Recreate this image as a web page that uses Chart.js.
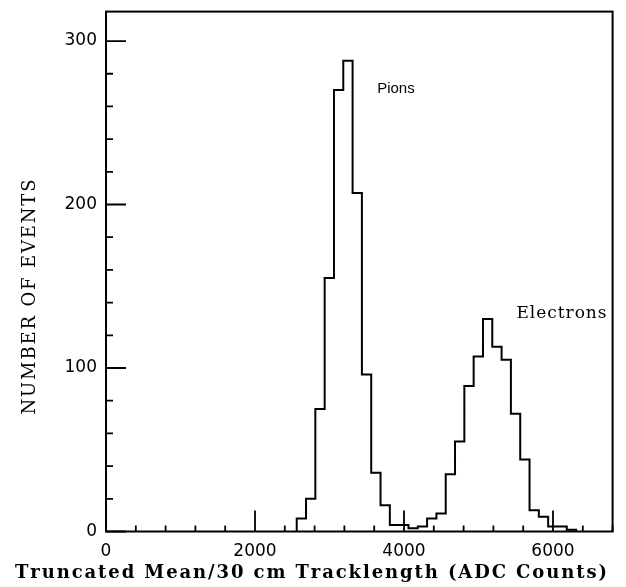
<!DOCTYPE html>
<html><head><meta charset="utf-8">
<script src="https://cdn.jsdelivr.net/npm/chart.js@4"></script>
<style>html,body{margin:0;padding:0;background:#fff}#wrap{width:626px;height:587px;position:relative}</style>
</head><body><div id="wrap"><canvas id="c" width="626" height="587"></canvas></div>
<script>
// ---- data ----
const binEdges = [2560, 2685, 2810, 2935, 3060, 3185, 3310, 3435, 3560, 3685,
                  3810, 3935, 4060, 4185, 4310, 4435, 4560, 4685, 4810, 4935,
                  5060, 5185, 5310, 5435, 5560, 5685, 5810, 5935, 6060, 6185, 6310];
const counts = [8, 20, 75, 155, 270, 288, 207, 96, 36, 16,
                4, 4, 2, 3, 8, 11, 35, 55, 89, 107,
                130, 113, 105, 72, 44, 13, 9, 3, 3, 1];
const xTickValues = [0, 2000, 4000, 6000];
const yTickValues = [0, 100, 200, 300];
const xMinorStep = 400;
const yMinorStep = 20;
const xRange = [0, 6800];
const yRange = [0, 318];
const xTitle = 'Truncated Mean/30 cm Tracklength (ADC Counts)';
const yTitle = 'NUMBER OF EVENTS';
const labels = [
  {text: 'Pions', x: 3640, y: 271},
  {text: 'Electrons', x: 5510, y: 133}
];

// histogram outline points built from the arrays
const histPoints = [{x: binEdges[0], y: 0}];
counts.forEach((c, i) => histPoints.push({x: binEdges[i], y: c}));
histPoints.push({x: binEdges[binEdges.length - 1], y: 0});

function spacedText(ctx, text, x, y, targetWidth, align) {
  ctx.save();
  const chars = [...text];
  const widths = chars.map(ch => ctx.measureText(ch).width);
  const natural = widths.reduce((a, b) => a + b, 0);
  const gap = (targetWidth - natural) / (chars.length - 1);
  let cx = align === 'center' ? x - targetWidth / 2 : x;
  ctx.textAlign = 'left';
  chars.forEach((ch, i) => { ctx.fillText(ch, cx, y); cx += widths[i] + gap; });
  ctx.restore();
}

const framePlugin = {
  id: 'frame',
  afterDatasetsDraw(chart) {
    const {ctx, chartArea: a, scales: {x, y}} = chart;
    ctx.save();
    ctx.strokeStyle = '#000';
    ctx.lineWidth = 2;
    ctx.strokeRect(a.left, a.top, a.right - a.left, a.bottom - a.top);
    ctx.lineWidth = 1.8;
    ctx.beginPath();
    for (let v = yRange[0]; v <= yRange[1]; v += yMinorStep) {
      const py = y.getPixelForValue(v);
      const len = yTickValues.includes(v) ? 20 : 7;
      ctx.moveTo(a.left, py); ctx.lineTo(a.left + len, py);
    }
    for (let v = xRange[0]; v <= xRange[1]; v += xMinorStep) {
      const px = x.getPixelForValue(v);
      const len = xTickValues.includes(v) ? 21 : 6;
      ctx.moveTo(px, a.bottom); ctx.lineTo(px, a.bottom - len);
    }
    ctx.stroke();
    // annotations
    ctx.fillStyle = '#000';
    ctx.textBaseline = 'middle';
    ctx.font = '15px "Liberation Sans"';
    ctx.fillText(labels[0].text, x.getPixelForValue(labels[0].x), y.getPixelForValue(labels[0].y));
    ctx.font = '17px "DejaVu Serif"';
    spacedText(ctx, labels[1].text, x.getPixelForValue(labels[1].x), y.getPixelForValue(labels[1].y), 90, 'left');
    // axis titles
    ctx.font = 'bold 18px "DejaVu Serif"';
    spacedText(ctx, xTitle, 311, 573, 592, 'center');
    ctx.save();
    ctx.translate(30, 297);
    ctx.rotate(-Math.PI / 2);
    ctx.font = '18px "DejaVu Serif"';
    spacedText(ctx, yTitle, 0, 0, 235, 'center');
    ctx.restore();
    ctx.restore();
  }
};

new Chart(document.getElementById('c'), {
  type: 'line',
  data: {
    datasets: [{
      data: histPoints,
      stepped: 'before',
      borderColor: '#000',
      borderWidth: 2,
      pointRadius: 0,
      fill: false,
      tension: 0
    }]
  },
  options: {
    responsive: false,
    animation: false,
    events: [],
    layout: {padding: {top: 11.6, right: 13.4, left: 0, bottom: 0}},
    plugins: {legend: {display: false}, tooltip: {enabled: false}},
    scales: {
      x: {
        type: 'linear', min: xRange[0], max: xRange[1],
        grid: {display: false, drawTicks: false},
        border: {display: false},
        afterBuildTicks: s => { s.ticks = xTickValues.map(v => ({value: v})); },
        afterFit: s => { s.height = 55.5; s.paddingLeft = 0; s.paddingRight = 0; },
        ticks: {color: '#000', font: {family: 'DejaVu Sans', size: 17}, padding: 10, maxRotation: 0,
                callback: v => String(v)}
      },
      y: {
        type: 'linear', min: yRange[0], max: yRange[1],
        grid: {display: false, drawTicks: false},
        border: {display: false},
        afterBuildTicks: s => { s.ticks = yTickValues.map(v => ({value: v})); },
        afterFit: s => { s.width = 106; s.paddingTop = 0; s.paddingBottom = 0; },
        ticks: {color: '#000', font: {family: 'DejaVu Sans', size: 17}, padding: 9,
                callback: v => String(v)}
      }
    }
  },
  plugins: [framePlugin]
});
</script></body></html>
